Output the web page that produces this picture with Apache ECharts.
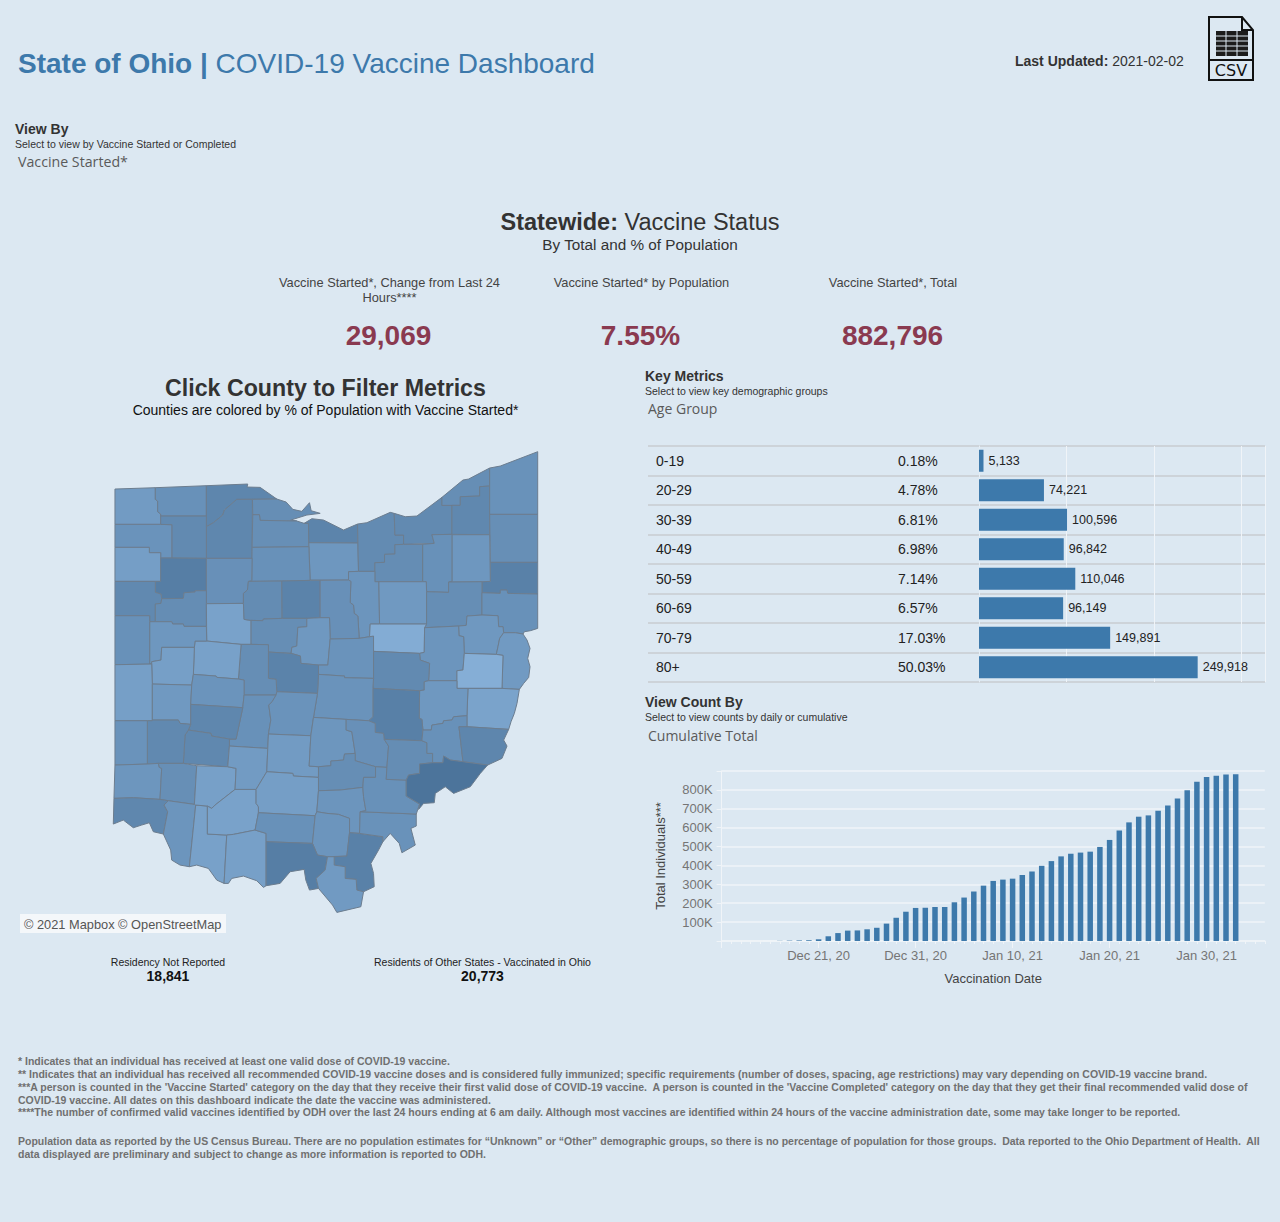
<!DOCTYPE html>
<html><head><meta charset="utf-8">
<script src="https://cdn.jsdelivr.net/npm/echarts@6/dist/echarts.min.js"></script>
<style>html,body{margin:0;padding:0;background:#dce8f2}#c{width:1280px;height:1222px}</style>
</head><body><div id="c"></div>
<script>
// ---------- data ----------
const ageGroups = ['0-19','20-29','30-39','40-49','50-59','60-69','70-79','80+'];
const agePercent = [0.18,4.78,6.81,6.98,7.14,6.57,17.03,50.03];
const ageCounts = [5133,74221,100596,96842,110046,96149,149891,249918];

const vaccDates = ['Dec 11, 20','Dec 12, 20','Dec 13, 20','Dec 14, 20','Dec 15, 20','Dec 16, 20','Dec 17, 20','Dec 18, 20','Dec 19, 20','Dec 20, 20','Dec 21, 20','Dec 22, 20','Dec 23, 20','Dec 24, 20','Dec 25, 20','Dec 26, 20','Dec 27, 20','Dec 28, 20','Dec 29, 20','Dec 30, 20','Dec 31, 20',
'Jan 1, 21','Jan 2, 21','Jan 3, 21','Jan 4, 21','Jan 5, 21','Jan 6, 21','Jan 7, 21','Jan 8, 21','Jan 9, 21','Jan 10, 21','Jan 11, 21','Jan 12, 21','Jan 13, 21','Jan 14, 21','Jan 15, 21','Jan 16, 21','Jan 17, 21','Jan 18, 21','Jan 19, 21','Jan 20, 21','Jan 21, 21','Jan 22, 21','Jan 23, 21','Jan 24, 21','Jan 25, 21','Jan 26, 21','Jan 27, 21','Jan 28, 21','Jan 29, 21','Jan 30, 21','Jan 31, 21',
'Feb 1, 21','Feb 2, 21','Feb 3, 21','Feb 4, 21','Feb 5, 21'];
const cumulativeTotal = [null,null,null,null,null,null,1000,2000,3000,4000,9000,25000,42000,55000,56000,62000,70000,92000,123000,155000,175000,
176000,180000,180000,205000,230000,262000,293000,318000,325000,330000,350000,368000,398000,423000,448000,462000,468000,473000,498000,535000,585000,628000,658000,665000,690000,718000,755000,798000,843000,868000,875000,
881000,882796,null,null,null];
const dateTickLabels = ['Dec 21, 20','Dec 31, 20','Jan 10, 21','Jan 20, 21','Jan 30, 21'];

const countyNames = ['Williams','Fulton','Lucas','Wood','Ottawa','Sandusky','Erie','Huron','Seneca','Lorain','Cuyahoga','Lake','Geauga','Ashtabula','Trumbull','Mahoning','Portage','Summit','Medina','Ashland','Wayne','Stark','Columbiana','Carroll','Jefferson','Defiance','Henry','Paulding','Putnam','Hancock','VanWert','Allen','Hardin','Wyandot','Crawford','Richland','Marion','Morrow','Knox','Holmes','Tuscarawas','Coshocton','Harrison','Belmont','Guernsey','Muskingum','Licking','Delaware','Union','Logan','Auglaize','Mercer','Shelby','Darke','Miami','Champaign','Madison','Franklin','Clark','Greene','Montgomery','Preble','Butler','Warren','Hamilton','Clermont','Brown','Clinton','Highland','Adams','Fayette','Pickaway','Ross','Pike','Fairfield','Perry','Hocking','Vinton','Jackson','Scioto','Gallia','Lawrence','Meigs','Athens','Morgan','Noble','Monroe','Washington'];
const countyPercent = [6.9,7.9,9.0,8.9,8.2,8.1,9.2,7.3,7.9,8.5,8.6,8.2,8.8,7.8,8.1,9.5,7.3,7.9,8.3,7.5,7.1,8.2,7.9,7.2,7.0,7.7,8.6,6.6,9.8,8.0,8.7,8.3,6.2,8.4,9.3,8.0,8.2,7.2,7.7,5.2,7.5,8.6,5.0,6.1,7.2,9.6,7.7,9.3,8.2,6.3,7.3,7.9,6.5,6.5,7.1,7.6,7.9,7.7,8.9,8.8,8.7,7.7,7.4,8.1,8.9,7.5,6.3,6.4,6.2,6.4,6.9,6.9,6.6,7.9,7.4,8.0,8.2,7.5,7.5,9.8,9.5,7.0,7.8,7.9,8.3,7.9,9.0,10.8];

// County outlines, in the map's own units (north-up), handed to echarts.registerMap
const countyOutlines = {
Williams:[45,147,166,143,166,178,173,183,173,215,182,222,182,253,45,253],
Fulton:[166,143,319,137,319,228,182,228,182,222,173,215,173,183,166,178],
Lucas:[319,137,443,132,441,141,480,142,530,177,410,178,373,210,368,225,340,248,319,260],
Wood:[319,260,340,248,368,225,373,210,410,178,457,178,456,355,319,355],
Ottawa:[457,178,530,177,558,186,578,208,605,214,628,188,633,212,660,220,620,225,572,240,590,243,480,241,478,224,458,224],
Sandusky:[458,224,478,224,480,241,590,243,612,250,625,250,626,320,456,322],
Erie:[612,250,635,236,670,240,730,270,772,252,773,309,626,308,625,250],
Huron:[626,308,773,309,775,394,745,395,745,420,630,420],
Seneca:[456,322,626,320,630,421,545,423,445,424,455,422],
Lorain:[772,252,800,248,870,217,882,220,884,285,910,285,910,313,884,314,884,342,853,343,853,367,824,368,824,394,775,394],
Cuyahoga:[882,220,915,230,950,228,1025,172,1025,196,1055,196,1055,283,995,284,1002,310,910,313,910,285,884,285],
Lake:[1025,172,1088,120,1105,117,1168,84,1168,138,1138,140,1138,168,1080,170,1080,196,1025,196],
Geauga:[1080,170,1138,168,1138,140,1168,138,1168,284,1055,283,1055,196,1080,196],
Ashtabula:[1168,84,1200,78,1312,35,1312,223,1168,223],
Trumbull:[1168,223,1312,223,1312,367,1170,367],
Mahoning:[1170,367,1312,367,1312,462,1222,460,1220,450,1200,450,1200,460,1145,458,1145,425,1170,424],
Portage:[1055,284,1168,284,1170,424,1145,425,1045,426,1055,424],
Summit:[995,284,1055,283,1055,424,1045,426,1045,457,979,455,978,425,967,425,967,313,1002,310],
Medina:[884,314,910,313,967,313,967,425,836,425,824,425,824,368,853,367,853,343,884,342],
Ashland:[745,395,775,394,824,394,824,425,836,425,838,552,810,552,808,590,777,595,773,528,762,520,760,495,750,488,752,424,745,420],
Wayne:[836,425,967,425,978,425,979,455,979,552,838,552],
Stark:[979,455,1045,457,1045,426,1145,425,1145,458,1145,525,1100,528,1098,556,1075,558,973,563,979,552],
Columbiana:[1145,458,1200,460,1200,450,1220,450,1222,460,1312,462,1312,565,1290,572,1272,575,1268,582,1245,578,1210,578,1208,560,1195,560,1193,527,1145,525],
Carroll:[1100,528,1145,525,1193,527,1195,560,1208,560,1210,578,1198,595,1193,620,1188,643,1092,640,1090,590,1076,587,1075,558,1098,556],
Jefferson:[1210,578,1245,578,1268,582,1280,600,1289,625,1282,655,1289,680,1285,712,1270,730,1257,748,1205,745,1208,646,1188,643,1193,620,1198,595],
Defiance:[45,253,182,253,216,254,216,354,182,354,182,338,148,338,148,322,45,322],
Henry:[182,228,319,228,319,260,319,355,216,354,216,254,182,253],
Paulding:[45,322,148,322,148,338,182,338,182,354,182,424,166,424,45,424],
Putnam:[182,354,216,354,319,355,319,452,285,452,285,456,252,458,250,475,185,476,183,462,166,457,166,424,182,424],
Hancock:[319,355,456,355,455,422,445,424,442,450,430,460,430,490,319,491],
VanWert:[45,424,166,424,166,457,183,462,185,476,183,490,166,492,166,545,149,545,149,527,45,527],
Allen:[185,476,250,475,252,458,285,456,285,452,319,452,319,491,319,559,252,559,250,552,218,552,215,545,166,545,166,492,183,490],
Hardin:[319,491,430,490,432,538,453,541,453,613,423,613,320,603],
Wyandot:[445,424,545,423,546,535,490,537,488,542,453,541,432,538,430,490,430,460,442,450],
Crawford:[545,423,630,421,660,421,660,533,620,535,546,535],
Richland:[660,421,745,420,752,424,750,488,760,495,762,520,773,528,777,595,690,597,688,533,660,533],
Marion:[453,541,488,542,490,537,546,535,620,535,620,560,593,562,590,618,575,622,573,640,505,636,505,614,453,613],
Morrow:[620,535,660,533,688,533,690,597,683,675,655,675,602,670,601,648,573,640,575,622,590,618,593,562,620,560],
Knox:[690,597,777,595,808,590,820,588,820,634,820,715,733,713,733,708,655,703,655,675,683,675],
Holmes:[810,552,838,552,979,552,973,563,972,637,958,640,820,634,820,588,808,590],
Tuscarawas:[973,563,1075,558,1076,587,1090,590,1092,640,1088,690,1070,692,1070,722,985,722,988,670,960,660,958,640,972,637],
Coshocton:[820,634,958,640,960,660,988,670,985,722,972,725,972,750,958,752,818,745,820,715],
Harrison:[1092,640,1188,643,1208,646,1205,745,1103,745,1070,745,1070,722,1070,692,1088,690],
Belmont:[1103,745,1205,745,1257,748,1250,790,1242,820,1232,845,1225,868,1100,860,1100,827],
Guernsey:[985,722,1070,722,1070,745,1103,745,1100,827,1060,830,1055,840,1030,842,1028,850,995,855,993,870,968,870,965,838,957,835,958,752,972,750,972,725],
Muskingum:[818,745,958,752,957,835,965,838,968,870,965,902,852,898,850,880,825,877,825,850,805,842,818,830],
Licking:[655,703,733,708,733,713,820,715,818,745,818,830,805,842,738,838,640,832,652,760],
Delaware:[505,636,573,640,601,648,602,670,655,675,655,703,652,760,530,755,528,718,505,715],
Union:[423,613,453,613,505,614,505,636,505,715,528,718,530,755,528,765,432,765,432,720,415,717],
Logan:[320,603,423,613,415,717,350,712,348,708,280,703,283,622,285,603],
Auglaize:[149,545,166,545,215,545,218,552,250,552,252,559,319,559,320,603,285,603,283,622,185,622,183,660,155,665,155,672,149,672],
Mercer:[45,527,149,527,149,545,149,672,155,672,45,674],
Shelby:[155,665,183,660,185,622,283,622,280,703,275,735,157,732],
Darke:[45,674,155,672,157,732,157,840,157,842,142,842,45,842],
Miami:[157,732,275,735,272,793,272,853,240,850,235,840,157,840],
Champaign:[280,703,348,708,350,712,415,717,432,720,432,765,428,803,272,793,275,735],
Madison:[432,765,528,765,516,785,506,795,512,840,505,882,503,925,388,918,388,897,408,897,428,803],
Franklin:[530,755,652,760,640,832,632,887,505,882,512,840,506,795,516,785,528,765],
Clark:[272,793,428,803,408,897,388,897,335,888,333,880,265,870,272,853],
Greene:[265,870,333,880,335,888,388,897,388,918,383,980,250,970,255,885],
Montgomery:[142,842,157,842,157,840,235,840,240,850,272,853,265,870,255,885,250,970,175,970,142,972],
Preble:[45,842,142,842,142,972,45,975],
Butler:[45,975,142,972,175,970,178,982,185,985,180,1078,100,1073,42,1075],
Warren:[175,970,250,970,290,977,283,1093,205,1082,180,1078,185,985,178,982],
Hamilton:[42,1075,100,1073,180,1078,205,1082,192,1095,203,1115,190,1182,160,1175,148,1148,125,1155,100,1163,70,1140,40,1152],
Clermont:[205,1082,283,1093,287,1095,268,1280,240,1275,215,1260,212,1230,190,1182,203,1115,192,1095],
Brown:[287,1095,322,1098,322,1182,380,1185,372,1330,350,1320,325,1285,290,1275,268,1280],
Clinton:[290,977,383,980,408,985,405,1048,345,1095,335,1105,322,1098,287,1095,283,1093],
Highland:[405,1048,468,1048,468,1090,475,1100,475,1118,465,1170,400,1183,380,1185,322,1182,322,1098,335,1105,345,1095],
Adams:[380,1185,400,1183,465,1170,498,1180,498,1205,498,1337,490,1342,470,1322,430,1308,395,1315,385,1330,372,1330],
Fayette:[388,918,503,925,500,995,468,1048,405,1048,408,985,383,980],
Pickaway:[505,882,632,887,627,978,655,980,655,1012,580,1008,578,1000,500,995,503,925],
Ross:[500,995,578,1000,580,1008,655,1012,655,1052,650,1115,645,1127,475,1118,475,1100,468,1090,468,1048],
Pike:[475,1118,645,1127,637,1210,498,1205,498,1180,465,1170],
Fairfield:[640,832,738,838,738,870,755,875,765,940,733,942,730,960,692,963,692,977,655,980,627,978,632,887],
Perry:[738,838,805,842,825,850,825,877,850,880,852,898,865,918,860,982,826,980,765,962,765,940,755,875,738,870],
Hocking:[655,980,692,977,692,963,730,960,733,942,765,940,765,962,826,980,826,1012,790,1012,788,1042,720,1050,655,1052,655,1012],
Vinton:[655,1052,720,1050,788,1042,790,1070,797,1112,780,1115,778,1180,748,1178,748,1135,715,1123,680,1120,650,1115],
Jackson:[650,1115,680,1120,715,1123,748,1135,748,1178,740,1248,682,1250,652,1245,637,1210,645,1127],
Scioto:[498,1205,637,1210,652,1245,682,1250,675,1290,648,1315,655,1345,628,1350,617,1320,612,1288,570,1295,540,1330,498,1337],
Gallia:[702,1250,740,1248,748,1178,778,1180,848,1190,848,1205,835,1230,812,1270,820,1300,822,1340,790,1355,770,1350,768,1318,735,1315,735,1280,702,1275],
Lawrence:[682,1250,702,1250,702,1275,735,1280,735,1315,768,1318,770,1350,790,1355,782,1400,710,1417,697,1395,655,1345,648,1315,675,1290],
Meigs:[780,1115,948,1122,948,1158,932,1165,945,1215,905,1238,897,1210,870,1180,848,1205,848,1190,778,1180],
Athens:[790,1012,826,1012,826,980,860,982,858,1018,918,1020,918,1068,958,1092,948,1122,780,1115,797,1112,790,1070,788,1042],
Morgan:[852,898,965,902,980,908,980,940,997,940,997,968,958,972,958,1000,925,1005,918,1020,858,1018,860,982,865,918],
Noble:[968,870,993,870,995,855,1028,850,1030,842,1055,840,1060,830,1100,827,1100,860,1076,860,1088,965,1050,960,1030,948,1028,968,997,968,997,940,980,940,980,908,965,902],
Monroe:[1076,860,1100,860,1225,868,1210,900,1220,918,1205,955,1162,975,1088,965],
Washington:[958,972,997,968,1028,968,1030,948,1050,960,1088,965,1162,975,1140,1000,1110,1040,1060,1060,1035,1040,1005,1060,1002,1088,970,1090,955,1108,958,1092,918,1068,918,1020,925,1005,958,1000]
};

// ---------- map geometry ----------
const features = countyNames.map(n => {
  const f = countyOutlines[n], ring = [];
  for (let i = 0; i < f.length; i += 2) ring.push([f[i], -f[i + 1]]);
  ring.push(ring[0]);
  return {type:'Feature', properties:{name:n}, geometry:{type:'Polygon', coordinates:[ring]}};
});
echarts.registerMap('ohio', {type:'FeatureCollection', features});

// ---------- text helpers ----------
const AR = '"Liberation Sans", Arial, sans-serif';
const OS = '"Open Sans", sans-serif';
function t(x, y, text, size, color, opt) {
  opt = opt || {};
  return {type:'text', z:50, silent:true, style:{
    x, y, text, fill:color, fontFamily:opt.family || AR, fontSize:size,
    fontWeight:opt.weight || 'normal', align:opt.align || 'left', verticalAlign:'middle',
    rich:opt.rich, lineHeight:opt.lh
  }};
}
function r(b, n, size, color) {
  return {b:{fontWeight:'bold',fontSize:size,fontFamily:AR,fill:color,color:color}, n:{fontSize:size,fontFamily:AR,fill:color,color:color}};
}
const BLUE='#3d79ab', DK='#333333', GR='#707070', KPI='#8a3a50';
const footLines = [
 [1061,'* Indicates that an individual has received at least one valid dose of COVID-19 vaccine.'],
 [1074,'** Indicates that an individual has received all recommended COVID-19 vaccine doses and is considered fully immunized; specific requirements (number of doses, spacing, age restrictions) may vary depending on COVID-19 vaccine brand.'],
 [1087,"***A person is counted in the 'Vaccine Started' category on the day that they receive their first valid dose of COVID-19 vaccine.  A person is counted in the 'Vaccine Completed' category on the day that they get their final recommended valid dose of"],
 [1100,'COVID-19 vaccine. All dates on this dashboard indicate the date the vaccine was administered.'],
 [1112,'****The number of confirmed valid vaccines identified by ODH over the last 24 hours ending at 6 am daily. Although most vaccines are identified within 24 hours of the vaccine administration date, some may take longer to be reported.'],
 [1141,'Population data as reported by the US Census Bureau. There are no population estimates for “Unknown” or “Other” demographic groups, so there is no percentage of population for those groups.  Data reported to the Ohio Department of Health.  All'],
 [1154,'data displayed are preliminary and subject to change as more information is reported to ODH.']
];
const texts = [
 t(18,63,'{b|State of Ohio |}{n| COVID-19 Vaccine Dashboard}',28,BLUE,{rich:r(0,0,28,BLUE)}),
 t(1015,61,'{b|Last Updated:}{n| 2021-02-02}',14,DK,{rich:r(0,0,14,DK)}),
 t(15,129,'View By',14,DK,{weight:'bold'}),
 t(15,144,'Select to view by Vaccine Started or Completed',10.5,DK),
 t(18,161,'Vaccine Started*',14.2,'#5a5a5a',{family:OS}),
 t(640,221.5,'{b|Statewide:}{n| Vaccine Status}',23.5,DK,{align:'center',rich:r(0,0,23.5,DK)}),
 t(640,244,'By Total and % of Population',15.3,DK,{align:'center'}),
 t(389.5,282,'Vaccine Started*, Change from Last 24',12.8,'#444',{align:'center'}),
 t(389.5,297,'Hours****',12.8,'#444',{align:'center'}),
 t(641.5,282,'Vaccine Started* by Population',12.8,'#444',{align:'center'}),
 t(893,282,'Vaccine Started*, Total',12.8,'#444',{align:'center'}),
 t(388.5,335.5,'29,069',28,KPI,{align:'center',weight:'bold'}),
 t(640.5,335.5,'7.55%',28,KPI,{align:'center',weight:'bold'}),
 t(892.5,335.5,'882,796',28,KPI,{align:'center',weight:'bold'}),
 t(325.5,388,'Click County to Filter Metrics',23.2,DK,{align:'center',weight:'bold'}),
 t(325.5,410,'Counties are colored by % of Population with Vaccine Started*',14,'#111',{align:'center'}),
 {type:'rect',z:49,silent:true,shape:{x:20,y:914,width:206,height:19},style:{fill:'#f4f7fa'}},
 t(24,924,'© 2021 Mapbox © OpenStreetMap',12.8,'#555'),
 t(168,962,'Residency Not Reported',10.5,'#222',{align:'center'}),
 t(168,976,'18,841',14,'#111',{align:'center',weight:'bold'}),
 t(482.5,962,'Residents of Other States - Vaccinated in Ohio',10.5,'#222',{align:'center'}),
 t(482.5,976,'20,773',14,'#111',{align:'center',weight:'bold'}),
 t(645,376,'Key Metrics',14,DK,{weight:'bold'}),
 t(645,391,'Select to view key demographic groups',10.5,DK),
 t(648,408,'Age Group',14,'#5a5a5a',{family:OS}),
 t(645,702,'View Count By',14,DK,{weight:'bold'}),
 t(645,717,'Select to view counts by daily or cumulative',10.5,DK),
 t(648,735,'Cumulative Total',14,'#5a5a5a',{family:OS}),
 ...footLines.map(l => t(18,l[0],l[1],10.5,GR,{weight:'bold'}))
];
// CSV download icon
const ink='#111';
const icon = [
 {type:'polygon',z:50,silent:true,shape:{points:[[1209,17],[1242,17],[1253,30],[1253,80],[1209,80]]},style:{fill:'none',stroke:ink,lineWidth:2}},
 {type:'polyline',z:50,silent:true,shape:{points:[[1242,17],[1242,30],[1253,30]]},style:{fill:'none',stroke:ink,lineWidth:2}},
 {type:'line',z:50,silent:true,shape:{x1:1209,y1:60,x2:1253,y2:60},style:{stroke:ink,lineWidth:2}},
 {type:'rect',z:50,silent:true,shape:{x:1216,y:31,width:32,height:25},style:{fill:'#1c1c1c'}},
 ...[36,41,46,51].map(y=>({type:'line',z:51,silent:true,shape:{x1:1216,y1:y,x2:1248,y2:y},style:{stroke:'#dce8f2',lineWidth:1}})),
 ...[1226,1237].map(x=>({type:'line',z:51,silent:true,shape:{x1:x,y1:31,x2:x,y2:56},style:{stroke:'#dce8f2',lineWidth:1}})),
 t(1231,70.5,'CSV',16,ink,{align:'center',family:'"DejaVu Sans", sans-serif'})
];

const chart = echarts.init(document.getElementById('c'), null, {renderer:'svg', width:1280, height:1222});
const LINE='#c9cdd1', WHITE='#f0f4f8';
const monthTick = (i, v) => v === 'Dec 11, 20' || dateTickLabels.includes(v);
chart.setOption({
  animation:false,
  backgroundColor:'#dce8f2',
  textStyle:{fontFamily:AR},
  graphic:{elements:[...texts,...icon]},
  visualMap:{type:'continuous',show:false,min:5,max:11,seriesIndex:0,inRange:{color:['#85AED6','#4A7299']}},
  geo:{map:'ohio',roam:false,silent:true,aspectScale:1,left:113.3,top:451.7,width:424.4,height:460.7,
    label:{show:false},itemStyle:{borderColor:'#6c7d8f',borderWidth:1},emphasis:{disabled:true}},
  grid:[
    {left:648,top:446,width:617,height:236,containLabel:false},
    {left:979,top:446,width:286,height:236,containLabel:false},
    {left:721.6,top:771,width:543.2,height:170,containLabel:false}
  ],
  xAxis:[
    {gridIndex:0,type:'value',min:0,max:1,show:false},
    {gridIndex:1,type:'value',min:0,max:326857,interval:100000,axisLabel:{show:false},axisTick:{show:false},axisLine:{show:false},
      splitLine:{show:true,lineStyle:{color:WHITE,width:1}}},
    {gridIndex:2,type:'category',data:vaccDates,boundaryGap:false,position:'bottom',
      axisLine:{lineStyle:{color:WHITE,width:1.5}},axisTick:{show:true,length:7,interval:monthTick,lineStyle:{color:WHITE}},
      axisLabel:{interval:(i,v)=>dateTickLabels.includes(v),color:'#757575',fontSize:13,margin:8,hideOverlap:false},
      name:'Vaccination Date',nameLocation:'middle',nameGap:31,nameTextStyle:{color:'#444',fontSize:13}},
    {gridIndex:2,type:'category',data:vaccDates,boundaryGap:false,position:'bottom',
      axisLine:{show:false},axisTick:{show:true,length:3,interval:0,lineStyle:{color:WHITE}},axisLabel:{show:false}}
  ],
  yAxis:[
    {gridIndex:0,type:'category',data:ageGroups,inverse:true,axisLine:{show:false},axisTick:{show:false},axisLabel:{show:false},
      splitLine:{show:true,interval:0,lineStyle:{color:LINE,width:1.5}}},
    {gridIndex:1,type:'category',data:ageGroups,inverse:true,position:'left',axisLine:{show:true,lineStyle:{color:'#e6eef5'}},axisTick:{show:false},
      axisLabel:{interval:0,align:'left',margin:323,color:'#222',fontSize:14}},
    {gridIndex:1,type:'category',data:agePercent,inverse:true,position:'left',axisLine:{show:false},axisTick:{show:false},
      axisLabel:{interval:0,align:'left',margin:81,color:'#222',fontSize:14,formatter:v=>Number(v).toFixed(2)+'%'}},
    {gridIndex:2,type:'value',min:0,max:900000,interval:100000,
      axisLine:{show:true,lineStyle:{color:WHITE}},axisTick:{show:true,length:5,lineStyle:{color:WHITE}},
      axisLabel:{color:'#757575',fontSize:13,margin:9,formatter:v=>(v===0||v===900000)?'':(v/1000)+'K'},
      splitLine:{show:true,lineStyle:{color:WHITE,width:1.5}},
      name:'Total Individuals***',nameLocation:'middle',nameGap:55,nameRotate:90,nameTextStyle:{color:'#444',fontSize:13}}
  ],
  series:[
    {type:'map',geoIndex:0,data:countyNames.map((n,i)=>({name:n,value:countyPercent[i]}))},
    {type:'bar',xAxisIndex:1,yAxisIndex:1,data:ageCounts,barWidth:22,itemStyle:{color:BLUE},silent:true,
      label:{show:true,position:'right',distance:5,color:'#222',fontSize:12.5,formatter:p=>p.value.toLocaleString('en-US')}},
    {type:'bar',xAxisIndex:2,yAxisIndex:3,data:cumulativeTotal,barWidth:5.5,itemStyle:{color:BLUE},silent:true}
  ]
});
</script></body></html>
